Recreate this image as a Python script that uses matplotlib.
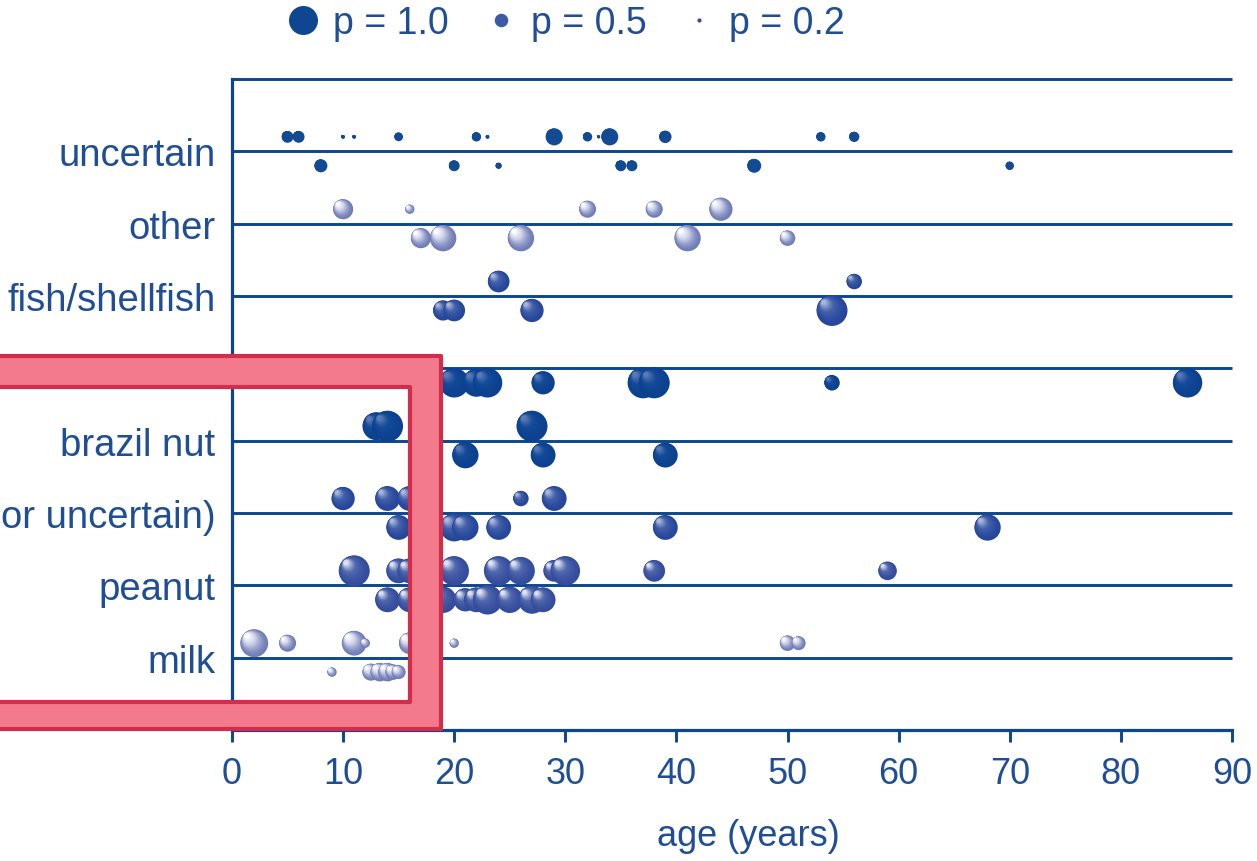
import numpy as np
import matplotlib
matplotlib.use('Agg')
import matplotlib.pyplot as plt
from matplotlib.colors import to_rgb
from matplotlib.lines import Line2D
from matplotlib.path import Path
from matplotlib.patches import PathPatch

plt.rcParams['font.family'] = ['Liberation Sans', 'DejaVu Sans']

# categories, bottom to top (one line per category); the left part of the
# third label and the fifth label are hidden in the reference
categories = ['milk', 'peanut', 'or uncertain)', 'brazil nut',
              'cashew', 'fish/shellfish', 'other', 'uncertain']

# age (years) and p of each bubble, row above (hi) / below (lo) the line
milk_hi_age = [2, 5, 11, 12, 16, 20, 50, 51]
milk_hi_p = [0.9, 0.55, 0.8, 0.3, 0.7, 0.3, 0.5, 0.45]
milk_lo_age = [9, 12.5, 13.3, 14, 14.5, 15]
milk_lo_p = [0.3, 0.55, 0.6, 0.6, 0.5, 0.45]

peanut_hi_age = [11, 15, 16, 20, 24, 26, 29, 30, 38, 59]
peanut_hi_p = [1.0, 0.8, 0.8, 0.95, 0.95, 0.9, 0.7, 0.95, 0.7, 0.6]
peanut_lo_age = [14, 16, 19, 21, 22, 23, 25, 27, 28]
peanut_lo_p = [0.8, 0.8, 0.85, 0.75, 0.8, 0.95, 0.85, 0.9, 0.8]

treenut_hi_age = [10, 14, 16, 26, 29]
treenut_hi_p = [0.75, 0.8, 0.8, 0.5, 0.8]
treenut_lo_age = [15, 20, 21, 24, 39, 68]
treenut_lo_p = [0.8, 0.9, 0.85, 0.8, 0.8, 0.85]

brazil_hi_age = [13, 14, 27]
brazil_hi_p = [0.9, 1.0, 1.0]
brazil_lo_age = [21, 28, 39]
brazil_lo_p = [0.85, 0.8, 0.8]

cashew_hi_age = []
cashew_hi_p = []
cashew_lo_age = [20, 22, 23, 28, 37, 38, 54, 86]
cashew_lo_p = [0.95, 0.9, 0.95, 0.75, 1.0, 1.0, 0.5, 0.95]

fish_hi_age = [24, 56]
fish_hi_p = [0.7, 0.5]
fish_lo_age = [19, 20, 27, 54]
fish_lo_p = [0.65, 0.7, 0.75, 1.0]

other_hi_age = [10, 16, 32, 38, 44]
other_hi_p = [0.65, 0.3, 0.55, 0.55, 0.75]
other_lo_age = [17, 19, 26, 41, 50]
other_lo_p = [0.65, 0.85, 0.85, 0.85, 0.5]

uncertain_hi_age = [5, 6, 10, 11, 15, 22, 23, 29, 32, 33, 34, 39, 53, 56]
uncertain_hi_p = [0.38, 0.38, 0.12, 0.12, 0.28, 0.3, 0.12, 0.55, 0.3, 0.1, 0.55, 0.4, 0.3, 0.33]
uncertain_lo_age = [8, 20, 24, 35, 36, 47, 70]
uncertain_lo_p = [0.42, 0.35, 0.2, 0.35, 0.35, 0.45, 0.27]

legend_p = [1.0, 0.5, 0.2]
xticks = list(range(0, 91, 10))

# colours: edge -> body -> highlight
LINE = '#0B4690'
TEXT = '#1F4E97'
white_ball = ('#6F7CB6', '#CDD2E9', '#FFFFFF')
mid_ball = ('#25469A', '#4562AB', '#A9B6DC')
light_ball = ('#344C9C', '#5169AE', '#DCE1F2')
dark_ball = ('#0B418E', '#144B98', '#5A79B6')
flat_ball = ('#124A94', '#124A94', '#124A94')

rows = [
    (1, milk_hi_age, milk_hi_p, milk_lo_age, milk_lo_p, white_ball),
    (2, peanut_hi_age, peanut_hi_p, peanut_lo_age, peanut_lo_p, light_ball),
    (3, treenut_hi_age, treenut_hi_p, treenut_lo_age, treenut_lo_p, mid_ball),
    (4, brazil_hi_age, brazil_hi_p, brazil_lo_age, brazil_lo_p, dark_ball),
    (5, cashew_hi_age, cashew_hi_p, cashew_lo_age, cashew_lo_p, dark_ball),
    (6, fish_hi_age, fish_hi_p, fish_lo_age, fish_lo_p, mid_ball),
    (7, other_hi_age, other_hi_p, other_lo_age, other_lo_p, white_ball),
    (8, uncertain_hi_age, uncertain_hi_p, uncertain_lo_age, uncertain_lo_p, flat_ball),
]
row_off = 0.2
DPI = 100
D_FULL = 31  # bubble diameter (px) for p = 1


def mix(a, b, t):
    return np.array(to_rgb(a)) * (1 - t) + np.array(to_rgb(b)) * t


def ball_color(pal, t):
    if t < 0.5:
        return mix(pal[0], pal[1], t * 2)
    return mix(pal[1], pal[2], (t - 0.5) * 2)


def draw_ball(ax, x, y, p, pal, n=14):
    d = D_FULL * p
    cx, cy = ax.transData.transform((x, y))
    k = np.arange(n)
    f = 1 - 0.9 * k / n
    t = (k / (n - 1)) ** 1.5
    shift = (1 - f) * 0.32 * d
    pts = np.column_stack([cx - shift, cy + shift])
    xy = ax.transData.inverted().transform(pts)
    cols = [ball_color(pal, ti) for ti in t]
    ax.scatter(xy[:, 0], xy[:, 1], s=(d * f * 72 / DPI) ** 2, c=cols,
               linewidths=0, zorder=3, clip_on=False)


fig = plt.figure(figsize=(12.57, 8.62), dpi=DPI)
ax = fig.add_axes([232 / 1257, 1 - 731 / 862, 1000 / 1257, 651 / 862])
ax.set_xlim(0, 90)
ax.set_ylim(0, 9)

levels = list(range(1, 10))
ax.hlines(levels, 0, 90, color=LINE, linewidth=2.1, zorder=1, clip_on=False)

for lev, hi_a, hi_p, lo_a, lo_p, pal in rows:
    for a, p in zip(hi_a, hi_p):
        draw_ball(ax, a, lev + row_off, p, pal)
    for a, p in zip(lo_a, lo_p):
        draw_ball(ax, a, lev - row_off, p, pal)

for s in ['top', 'right']:
    ax.spines[s].set_visible(False)
for s in ['left', 'bottom']:
    ax.spines[s].set_color(LINE)
    ax.spines[s].set_linewidth(2.3)

ax.set_yticks(levels)
ax.set_yticklabels(categories + [''])
ax.tick_params(axis='y', length=0, pad=12, labelsize=27.5, labelcolor=TEXT)
ax.set_xticks(xticks)
ax.tick_params(axis='x', length=8.5, width=2.1, color=LINE, pad=10,
               labelsize=26, labelcolor=TEXT)
ax.set_xlabel('age (years)', fontsize=26, color=TEXT)
ax.xaxis.set_label_coords(0.516, -0.135)

# legend of bubble sizes
handles = [Line2D([], [], linestyle='none', marker='o',
                  markersize=max(D_FULL * p - 2, 3) * 72 / DPI,
                  markerfacecolor=c, markeredgewidth=0)
           for p, c in zip(legend_p, ['#0E4691', '#3D5AA5', '#2F5299'])]
fig.legend(handles, ['p = %.1f' % p for p in legend_p], loc='center',
           bbox_to_anchor=(0.449, 1 - 24 / 862), ncol=3, frameon=False,
           fontsize=27, labelcolor=TEXT, handlelength=1.0, handletextpad=0.3,
           columnspacing=0.9, borderaxespad=0)

# red highlight frame laid over the lower-left part
W, H = 1257, 862


def fpt(x, y):
    return (x / W, 1 - y / H)


outer = [fpt(-60, 357), fpt(441, 357), fpt(441, 730), fpt(-60, 730), fpt(-60, 357)]
inner = [fpt(-30, 388), fpt(-30, 703), fpt(410, 703), fpt(410, 388), fpt(-30, 388)]
codes = [Path.MOVETO, Path.LINETO, Path.LINETO, Path.LINETO, Path.CLOSEPOLY]
frame = PathPatch(Path(outer + inner, codes + codes), facecolor='#F37A8D',
                  edgecolor='#D22D4A', linewidth=3, joinstyle='round',
                  transform=fig.transFigure, zorder=10)
fig.add_artist(frame)

fig.savefig('out.png', dpi=DPI)
